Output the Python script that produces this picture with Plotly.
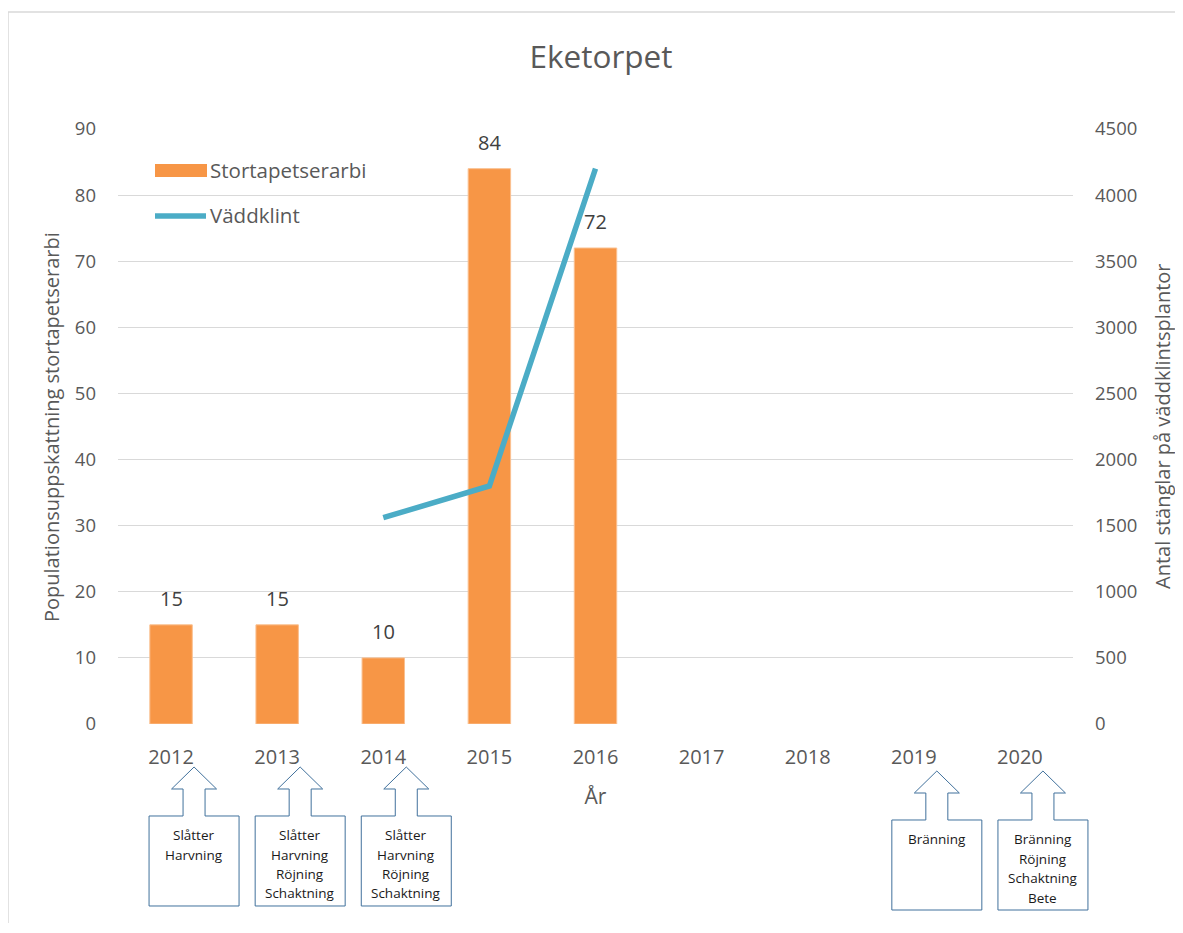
import plotly.graph_objects as go

years = ["2012", "2013", "2014", "2015", "2016", "2017", "2018", "2019", "2020"]
bee_years = ["2012", "2013", "2014", "2015", "2016"]
bee_values = [15, 15, 10, 84, 72]
plant_years = ["2014", "2015", "2016"]
plant_values = [1560, 1800, 4200]
action_years = ["2012", "2013", "2014", "2019", "2020"]
action_texts = [
    ["Slåtter", "Harvning"],
    ["Slåtter", "Harvning", "Röjning", "Schaktning"],
    ["Slåtter", "Harvning", "Röjning", "Schaktning"],
    ["Bränning"],
    ["Bränning", "Röjning", "Schaktning", "Bete"],
]

OFF = 8  # page body margin
W, H = 1183 - OFF, 933 - 2 * OFF - 2
# plot area in page pixel coordinates
L, R, T, B = 118, 1073, 129, 724
FONT = "Open Sans"
GREY = "#595959"


def px(x):
    return (x - L) / (R - L)


def py(y):
    return (B - y) / (B - T)


fig = go.Figure()
fig.add_trace(go.Bar(
    x=bee_years, y=bee_values, name="Stortapetserarbi",
    marker=dict(color="#F79646", line=dict(color="#FAC090", width=1)),
))
fig.add_trace(go.Scatter(
    x=plant_years, y=plant_values, name="Väddklint", yaxis="y2",
    mode="lines", line=dict(color="#4BACC6", width=5.5),
))

shapes = []
annotations = []

# bar value labels
for yr, v in zip(bee_years, bee_values):
    annotations.append(dict(x=years.index(yr), y=v, xref="x", yref="y", text=str(v),
                            showarrow=False, xanchor="center", yanchor="bottom",
                            yshift=11, font=dict(size=20, color="#404040", family=FONT)))

# axis titles for the two value axes
annotations.append(dict(xref="paper", yref="paper", x=px(51), y=py(427),
                        text="Populationsuppskattning stortapetserarbi",
                        textangle=-90, showarrow=False, xanchor="center", yanchor="middle",
                        font=dict(size=20, color=GREY, family=FONT)))
annotations.append(dict(xref="paper", yref="paper", x=px(1162), y=py(427),
                        text="Antal stänglar på väddklintsplantor",
                        textangle=-90, showarrow=False, xanchor="center", yanchor="middle",
                        font=dict(size=20, color=GREY, family=FONT)))

# outer frame (partially visible)
shapes.append(dict(type="rect", xref="paper", yref="paper",
                   x0=px(8), x1=px(1300), y0=py(1000), y1=py(12),
                   line=dict(color="#D9D9D9", width=1.5), layer="below"))

# custom legend
shapes.append(dict(type="rect", xref="paper", yref="paper",
                   x0=px(155), x1=px(207), y0=py(177), y1=py(164),
                   fillcolor="#F79646", line=dict(width=0)))
shapes.append(dict(type="line", xref="paper", yref="paper",
                   x0=px(155), x1=px(206), y0=py(216), y1=py(216),
                   line=dict(color="#4BACC6", width=5.5)))
annotations.append(dict(xref="paper", yref="paper", x=px(208), y=py(170),
                        text="Stortapetserarbi", showarrow=False,
                        xanchor="left", yanchor="middle",
                        font=dict(size=20.5, color=GREY, family=FONT)))
annotations.append(dict(xref="paper", yref="paper", x=px(208), y=py(215),
                        text="Väddklint", showarrow=False,
                        xanchor="left", yanchor="middle",
                        font=dict(size=20.5, color=GREY, family=FONT)))

# arrow callouts under the x axis
step = (R - L) / len(years)
for yr, lines in zip(action_years, action_texts):
    i = years.index(yr)
    cx = L + (i + 0.5) * step + 23
    late = i >= 7
    tip_y = 771 if late else 767
    base_y = 793 if late else 789
    top = 820 if late else 816
    bot = 910 if late else 906
    hw, hh, sw = 45, 22.5, 11
    pts = [
        (cx - sw, top), (cx - sw, base_y), (cx - hh, base_y), (cx, tip_y),
        (cx + hh, base_y), (cx + sw, base_y), (cx + sw, top),
        (cx + hw, top), (cx + hw, bot), (cx - hw, bot), (cx - hw, top),
    ]
    path = "M " + " L ".join(f"{px(x):.5f},{py(y):.5f}" for x, y in pts) + " Z"
    shapes.append(dict(type="path", xref="paper", yref="paper", path=path,
                       line=dict(color="#41719C", width=1), fillcolor="white"))
    for k, line in enumerate(lines):
        annotations.append(dict(xref="paper", yref="paper", x=px(cx),
                                y=py(top + 19 + k * 19.5),
                                text=line, showarrow=False,
                                xanchor="center", yanchor="middle",
                                font=dict(size=13.5, color="#1a1a1a", family=FONT)))

fig.update_layout(
    width=W, height=H,
    margin=dict(l=L - OFF, r=W - (R - OFF), t=T - OFF, b=H - (B - OFF)),
    paper_bgcolor="white", plot_bgcolor="white",
    showlegend=False,
    bargap=0.6,
    title=dict(text="Eketorpet", xref="paper", x=px(601), xanchor="center",
               y=1 - (57 - OFF) / H, yanchor="middle",
               font=dict(size=31.5, color=GREY, family=FONT)),
    font=dict(family=FONT, color=GREY),
    xaxis=dict(type="category", categoryorder="array", categoryarray=years,
               range=[-0.5, len(years) - 0.5], automargin=False,
               tickfont=dict(size=20, color=GREY), ticks="", ticklabelstandoff=19,
               showline=False, showgrid=False,
               title=dict(text="År", font=dict(size=21, color=GREY), standoff=20)),
    yaxis=dict(range=[0, 90], dtick=10, tick0=0, showgrid=True, gridcolor="#D9D9D9",
               gridwidth=1.3, zeroline=False, showline=False, ticks="", automargin=False,
               tickfont=dict(size=18.5, color=GREY), ticklabelstandoff=21),
    yaxis2=dict(range=[0, 4500], dtick=500, tick0=0, overlaying="y", side="right",
                showgrid=False, zeroline=False, showline=False, ticks="", automargin=False,
                tickfont=dict(size=18.5, color=GREY), ticklabelstandoff=21),
    shapes=shapes,
    annotations=annotations,
)

fig.write_html("out.html")
